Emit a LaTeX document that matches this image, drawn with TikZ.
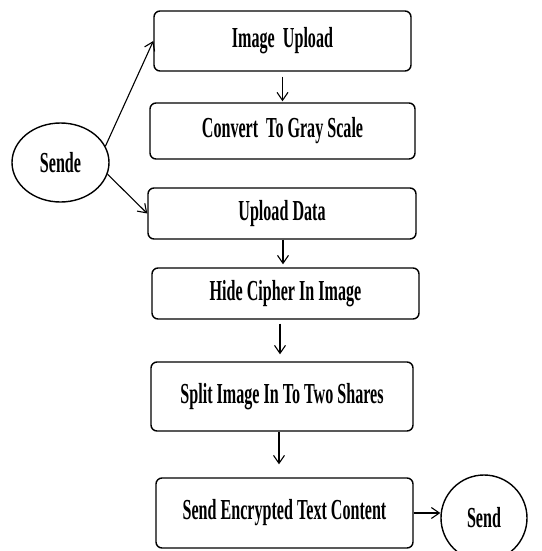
\documentclass[tikz,border=0pt]{standalone}
\usepackage{fontspec}
\setmainfont[FakeStretch=0.555]{Liberation Serif}
\usetikzlibrary{arrows.meta,shapes.geometric}
\begin{document}
\begin{tikzpicture}[x=1pt,y=-1pt,
  box/.style={draw, line width=1.4pt, rounded corners=6pt, inner sep=0pt},
  oval/.style={draw, line width=1.4pt, ellipse, inner sep=0pt},
  lbl/.style={font=\fontsize{29}{32}\selectfont\bfseries},
  arr/.style={line width=1.1pt, -{Straight Barb[length=8pt,width=11pt,line width=1.1pt]}}]
\clip (0,0) rectangle (541,551);
\fill[white] (0,0) rectangle (541,551);
\node[box, lbl, minimum width=257pt, minimum height=60pt] (imgup) at (282.5,41) {Image\ \ Upload};
\node[box, lbl, minimum width=265pt, minimum height=56pt] (gray) at (282.5,131) {Convert\ \ To Gray Scale};
\node[box, lbl, minimum width=268pt, minimum height=51pt] (updata) at (282,213.5) {Upload Data};
\node[box, lbl, minimum width=267pt, minimum height=51pt] (hide) at (285.5,293.5) {Hide Cipher In Image};
\node[box, lbl, minimum width=262pt, minimum height=69pt] (split) at (282,396.5) {Split Image In To Two Shares};
\node[box, lbl, minimum width=257pt, minimum height=70pt] (sendenc) at (284.5,513) {Send Encrypted Text Content};
\node[oval, lbl, minimum width=97pt, minimum height=79pt] (sende) at (60.5,162.5) {Sende};
\node[oval, lbl, minimum width=86pt, minimum height=86pt] (send) at (484,518) {Send};
\draw[arr, shorten <=5pt, shorten >=1pt] (imgup.south) -- (gray.north);
\draw[arr, shorten >=3pt] ([xshift=1pt]updata.south) -- ([xshift=1pt]updata.south |- hide.north);
\draw[arr, shorten <=4pt, shorten >=7pt] ([xshift=-5.5pt]hide.south) -- ([xshift=-5.5pt]hide.south |- split.north);
\draw[arr, shorten >=13pt] ([xshift=-3pt]split.south) -- ([xshift=-3pt]split.south |- sendenc.north);
\draw[arr] (sendenc.east) -- (sendenc.east -| send.west);
\draw[arr] (sende.20) -- (imgup.west);
\draw[arr] (sende.-14) -- (updata.west);
\end{tikzpicture}
\end{document}
